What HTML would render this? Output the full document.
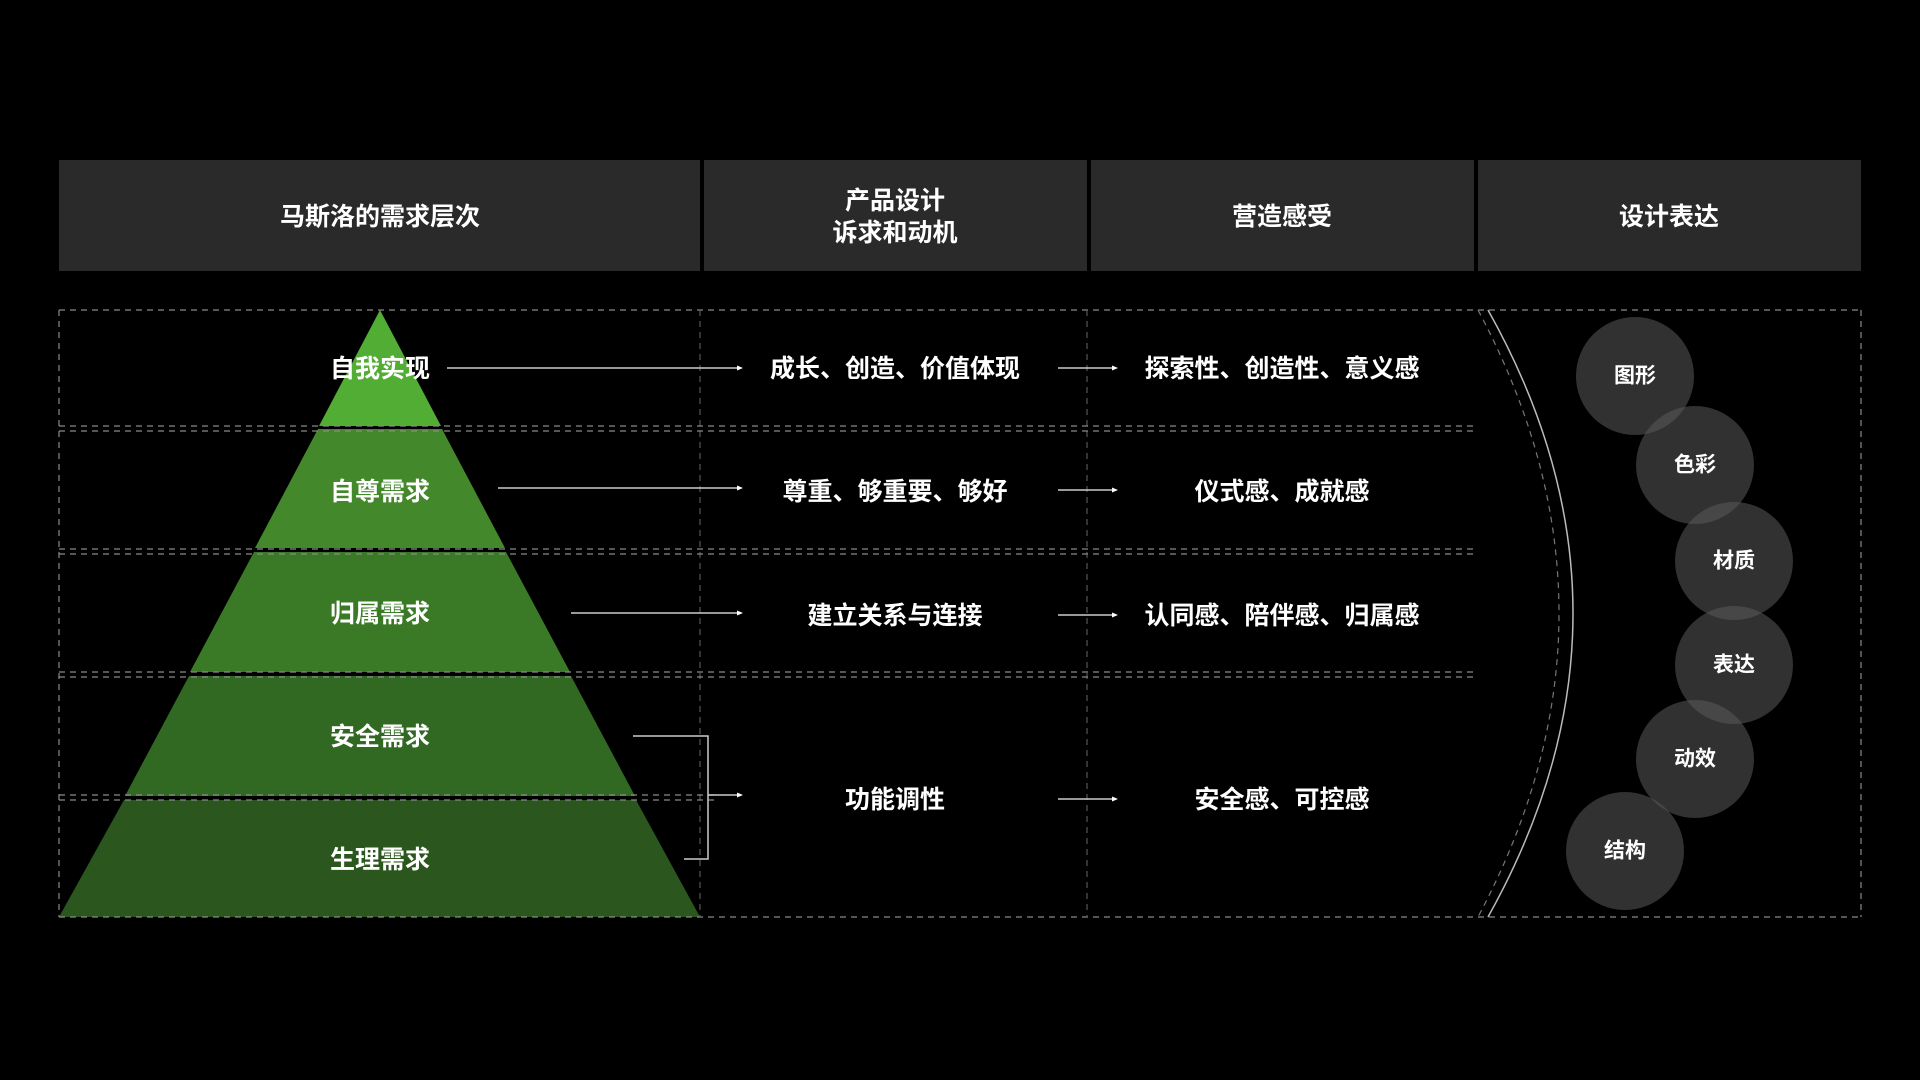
<!DOCTYPE html>
<html><head><meta charset="utf-8"><style>
html,body{margin:0;padding:0;background:#000;width:1920px;height:1080px;overflow:hidden}
svg text{font-family:"Liberation Sans","Noto Sans CJK SC",sans-serif;font-weight:bold;fill:#fff;text-anchor:middle;dominant-baseline:central}
</style></head><body>
<svg width="1920" height="1080" viewBox="0 0 1920 1080" xmlns="http://www.w3.org/2000/svg">
<rect width="1920" height="1080" fill="#000"/>
<g fill="#2a2a2a">
<rect x="59" y="160" width="641" height="111"/>
<rect x="704" y="160" width="383" height="111"/>
<rect x="1091" y="160" width="383" height="111"/>
<rect x="1478" y="160" width="383" height="111"/>
</g>
<g font-size="25" transform="translate(0,2)">
<text x="380" y="215">马斯洛的需求层次</text>
<text x="895" y="199">产品设计</text>
<text x="895" y="231">诉求和动机</text>
<text x="1282" y="215">营造感受</text>
<text x="1669" y="215">设计表达</text>
</g>
<polygon points="380,310 441,426 319,426" fill="#52ad35"/>
<polygon points="318,429 442,429 505,548 255,548" fill="#43892b"/>
<polygon points="254,552 506,552 570,672 190,672" fill="#3a7a27"/>
<polygon points="189,676 571,676 635,796 125,796" fill="#326922"/>
<polygon points="124,800 636,800 700,917 59,917" fill="#2b571f"/>
<g stroke="#8a8a8a" stroke-width="1.2" stroke-dasharray="6,5" fill="none">
<line x1="59" y1="310" x2="1861" y2="310"/>
<line x1="59" y1="917" x2="1861" y2="917"/>
<line x1="59" y1="310" x2="59" y2="917"/>
<line x1="1861" y1="310" x2="1861" y2="917"/>
<line x1="700" y1="310" x2="700" y2="917" stroke="#555"/>
<line x1="1087" y1="310" x2="1087" y2="917" stroke="#555"/>
<line x1="59" y1="426" x2="1474" y2="426"/>
<line x1="59" y1="431" x2="1474" y2="431"/>
<line x1="59" y1="549" x2="1474" y2="549"/>
<line x1="59" y1="554" x2="1474" y2="554"/>
<line x1="59" y1="672" x2="1474" y2="672"/>
<line x1="59" y1="677" x2="1474" y2="677"/>
<line x1="59" y1="795" x2="718" y2="795"/>
<line x1="59" y1="800" x2="718" y2="800"/>
</g>
<g font-size="25" transform="translate(0,2)">
<text x="380" y="367">自我实现</text>
<text x="380" y="490">自尊需求</text>
<text x="380" y="612">归属需求</text>
<text x="380" y="735">安全需求</text>
<text x="380" y="858">生理需求</text>
<text x="895" y="367">成长、创造、价值体现</text>
<text x="895" y="490">尊重、够重要、够好</text>
<text x="895" y="614">建立关系与连接</text>
<text x="895" y="798">功能调性</text>
<text x="1282" y="367">探索性、创造性、意义感</text>
<text x="1282" y="490">仪式感、成就感</text>
<text x="1282" y="614">认同感、陪伴感、归属感</text>
<text x="1282" y="798">安全感、可控感</text>
</g>
<g stroke="#ccc" stroke-width="1.5" fill="none">
<line x1="447" y1="368" x2="740" y2="368"/>
<line x1="498" y1="488" x2="740" y2="488"/>
<line x1="571" y1="613" x2="740" y2="613"/>
<polyline points="633,736 708,736 708,859 684,859"/>
<line x1="708" y1="795" x2="740" y2="795"/>
<line x1="1058" y1="368" x2="1115" y2="368"/>
<line x1="1058" y1="490" x2="1115" y2="490"/>
<line x1="1058" y1="615" x2="1115" y2="615"/>
<line x1="1058" y1="799" x2="1115" y2="799"/>
</g>
<g fill="#fff">
<polygon points="743,368 737,365.5 737,370.5"/>
<polygon points="743,488 737,485.5 737,490.5"/>
<polygon points="743,613 737,610.5 737,615.5"/>
<polygon points="743,795 737,792.5 737,797.5"/>
<polygon points="1118,368 1112,365.5 1112,370.5"/>
<polygon points="1118,490 1112,487.5 1112,492.5"/>
<polygon points="1118,615 1112,612.5 1112,617.5"/>
<polygon points="1118,799 1112,796.5 1112,801.5"/>
</g>
<path d="M1488,310 Q1658,613 1488,917" stroke="#bbb" stroke-width="1.5" fill="none"/>
<path d="M1478,310 Q1640,613 1478,917" stroke="#777" stroke-width="1.2" stroke-dasharray="6,5" fill="none"/>
<g fill="rgba(90,90,90,0.55)">
<circle cx="1635" cy="376" r="59"/>
<circle cx="1695" cy="465" r="59"/>
<circle cx="1734" cy="561" r="59"/>
<circle cx="1734" cy="665" r="59"/>
<circle cx="1695" cy="759" r="59"/>
<circle cx="1625" cy="851" r="59"/>
</g>
<g font-size="21">
<text x="1635" y="376">图形</text>
<text x="1695" y="465">色彩</text>
<text x="1734" y="561">材质</text>
<text x="1734" y="665">表达</text>
<text x="1695" y="759">动效</text>
<text x="1625" y="851">结构</text>
</g>
</svg>
</body></html>
